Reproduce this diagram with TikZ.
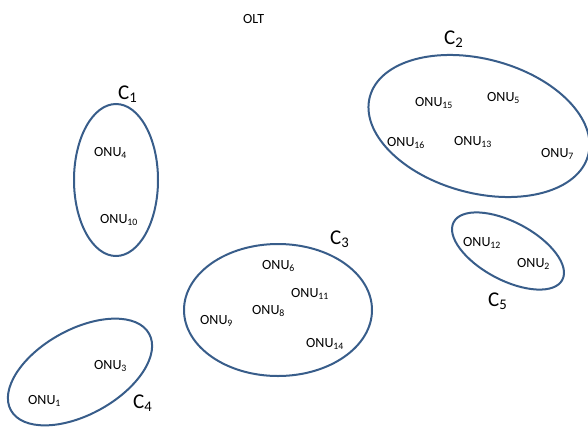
\documentclass[tikz,border=0pt]{standalone}
\usepackage{fontspec}
\setmainfont{Carlito}
\usetikzlibrary{shapes.geometric}
\definecolor{ringblue}{HTML}{385D8A}
\newcommand{\onu}[1]{ONU\textsubscript{#1}}
\newcommand{\clu}[1]{C\textsubscript{#1}}
\begin{document}
\begin{tikzpicture}[x=1pt,y=-1pt,
  cluster/.style={ellipse, draw=ringblue, line width=2pt, inner sep=0pt},
  unit/.style={anchor=base west, inner sep=0pt, font=\fontsize{14}{16}\selectfont},
  tag/.style={anchor=base west, inner sep=0pt, font=\fontsize{21}{24}\selectfont}]
\useasboundingbox (0,0) rectangle (588,426);

% head end
\node[unit] (olt) at (243,23) {OLT};

% clusters of ONUs
\node[cluster, minimum width=84pt, minimum height=152pt] (c1) at (116,180) {};
\node[cluster, minimum width=226pt, minimum height=134pt, rotate=-15] (c2) at (479,126) {};
\node[cluster, minimum width=188pt, minimum height=132pt] (c3) at (278,310) {};
\node[cluster, minimum width=158pt, minimum height=85pt, rotate=29] (c4) at (80,372) {};
\node[cluster, minimum width=123pt, minimum height=58pt, rotate=-28] (c5) at (508,251) {};

% cluster names
\node[tag] (n1) at (118,99) {\clu{1}};
\node[tag] (n2) at (444,44) {\clu{2}};
\node[tag] (n3) at (330,244) {\clu{3}};
\node[tag] (n4) at (133,408) {\clu{4}};
\node[tag] (n5) at (488,306) {\clu{5}};

% ONUs in C1
\node[unit] (u4)  at (94,156) {\onu{4}};
\node[unit] (u10) at (100,223) {\onu{10}};
% ONUs in C2
\node[unit] (u15) at (415,106) {\onu{15}};
\node[unit] (u5)  at (487,101) {\onu{5}};
\node[unit] (u16) at (387,146) {\onu{16}};
\node[unit] (u13) at (454,145) {\onu{13}};
\node[unit] (u7)  at (541,157) {\onu{7}};
% ONUs in C3
\node[unit] (u6)  at (262,269) {\onu{6}};
\node[unit] (u11) at (291,297) {\onu{11}};
\node[unit] (u8)  at (252,314) {\onu{8}};
\node[unit] (u9)  at (200,324) {\onu{9}};
\node[unit] (u14) at (306,347) {\onu{14}};
% ONUs in C4
\node[unit] (u3)  at (94,369) {\onu{3}};
\node[unit] (u1)  at (28,404) {\onu{1}};
% ONUs in C5
\node[unit] (u12) at (463,246) {\onu{12}};
\node[unit] (u2)  at (517,267) {\onu{2}};
\end{tikzpicture}
\end{document}
